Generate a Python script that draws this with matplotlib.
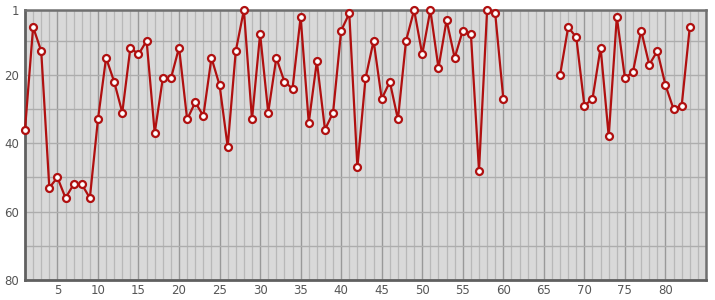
import numpy as np
import matplotlib
matplotlib.use("Agg")
import matplotlib.pyplot as plt
from matplotlib.ticker import MultipleLocator, FixedLocator

x_vals = list(range(1, 61)) + list(range(67, 84))
ranks = [36, 6, 13, 53, 50, 56, 52, 52, 56, 33,
         15, 22, 31, 12, 14, 10, 37, 21, 21, 12,
         33, 28, 32, 15, 23, 41, 13, 1, 33, 8,
         31, 15, 22, 24, 3, 34, 16, 36, 31, 7,
         2, 47, 21, 10, 27, 22, 33, 10, 1, 14,
         1, 18, 4, 15, 7, 8, 48, 1, 2, 27,
         20, 6, 9, 29, 27, 12, 38, 3, 21, 19,
         7, 17, 13, 23, 30, 29, 6]

y_ticks = [1, 20, 40, 60, 80]
x_ticks = [5, 10, 15, 20, 25, 30, 35, 40, 45, 50, 55, 60, 65, 70, 75, 80]

fig = plt.figure(figsize=(7.15, 3.0), dpi=100)
ax = fig.add_axes([25/715, 1 - 280/300, (706 - 25)/715, 270/300])
ax.set_facecolor("#d9d9d9")

xs = np.array(x_vals, dtype=float)
ys = np.array(ranks, dtype=float)
gap = np.where(np.diff(xs) > 1)[0]
segs_x = np.split(xs, gap + 1)
segs_y = np.split(ys, gap + 1)
for sx, sy in zip(segs_x, segs_y):
    ax.plot(sx, sy, color="#b01010", lw=1.6, marker="o", ms=5.0,
            mfc="white", mec="#b01010", mew=1.6, zorder=3, clip_on=False)

ax.set_xlim(1, 85)
ax.set_ylim(80, 1)

ax.xaxis.set_major_locator(FixedLocator(x_ticks))
ax.xaxis.set_minor_locator(MultipleLocator(1))
ax.yaxis.set_major_locator(FixedLocator(y_ticks))
ax.yaxis.set_minor_locator(FixedLocator([10, 20, 30, 40, 50, 60, 70]))

ax.grid(which="minor", axis="x", color="#b8b8b8", lw=0.9)
ax.grid(which="major", axis="x", color="#999999", lw=1.0)
ax.grid(which="minor", axis="y", color="#adadad", lw=1.0)
ax.grid(which="major", axis="y", color="#adadad", lw=1.0)
ax.set_axisbelow(True)

ax.tick_params(which="both", length=0, labelsize=8.5, labelcolor="#555555")
ax.tick_params(axis="y", pad=4)
ax.tick_params(axis="x", pad=3)

for side in ["left", "bottom"]:
    ax.spines[side].set_color("#606060")
    ax.spines[side].set_linewidth(2.0)
for side in ["right", "top"]:
    ax.spines[side].set_color("#707070")
    ax.spines[side].set_linewidth(1.8)

fig.savefig("out.png", dpi=100)
